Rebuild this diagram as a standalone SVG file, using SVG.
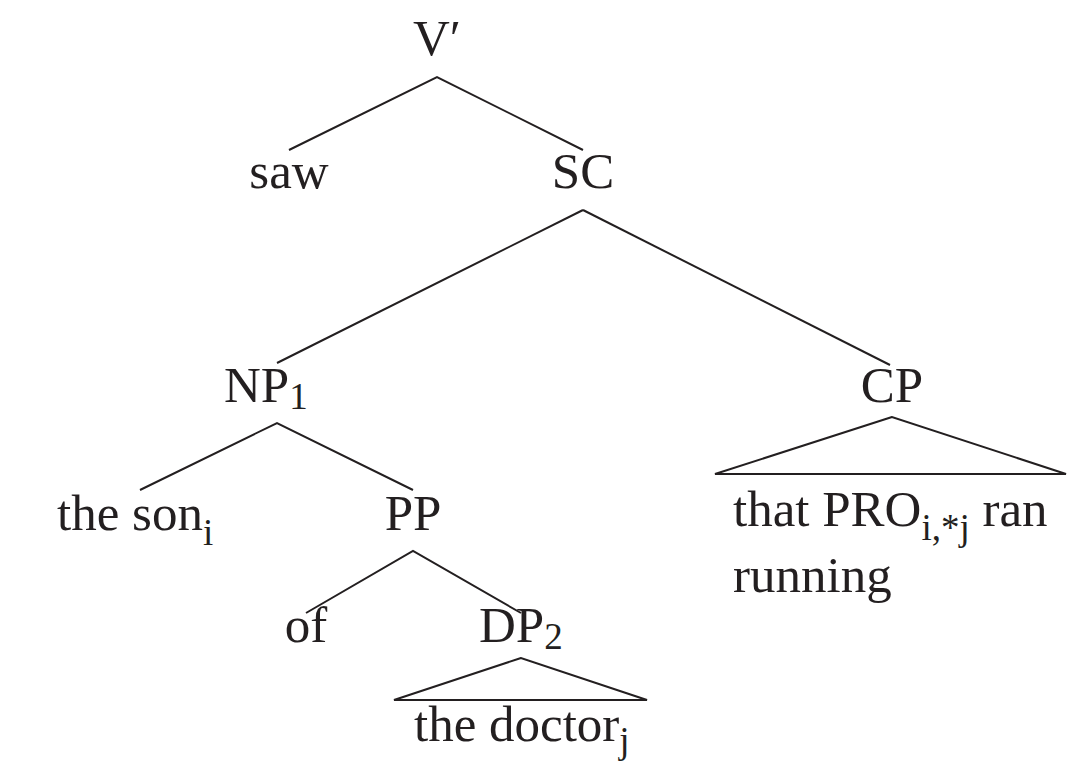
<svg xmlns="http://www.w3.org/2000/svg" width="1076" height="764" viewBox="0 0 1076 764">
<style>
text{font-family:"Liberation Serif","Times New Roman",serif;font-size:51px;fill:#231f20}
.m{text-anchor:middle}
.sub{font-size:37px}
.e line,.e polyline,.e polygon{stroke:#231f20;stroke-width:2;fill:none;stroke-linecap:butt}
</style>
<rect width="1076" height="764" fill="#fff"/>
<g class="e" id="connectors">
<polyline points="289,150 437,77 583,150"/>
<line x1="583" y1="210" x2="277" y2="363"/>
<line x1="583" y1="210" x2="890" y2="365"/>
<polyline points="140,490 277,423 413,490"/>
<polyline points="306,613 413,551 521,613"/>
<polygon points="521,658 394,700 647,700"/>
<polygon points="892,417 715,474 1066,474"/>
</g>
<g id="n-vbar"><text class="m" x="437" y="55">V′</text></g>
<g id="n-saw"><text class="m" x="289" y="188">saw</text></g>
<g id="n-sc"><text class="m" x="583" y="188">SC</text></g>
<g id="n-np1"><text x="224" y="402">NP<tspan class="sub" dy="7">1</tspan></text></g>
<g id="n-cp"><text class="m" x="892" y="402">CP</text></g>
<g id="n-theson"><text x="57" y="530">the son<tspan class="sub" dy="15">i</tspan></text></g>
<g id="n-pp"><text class="m" x="413" y="530">PP</text></g>
<g id="n-of"><text class="m" x="306" y="642">of</text></g>
<g id="n-dp2"><text x="479" y="642">DP<tspan class="sub" dy="7">2</tspan></text></g>
<g id="n-thedoctor"><text x="414" y="741">the doctor<tspan class="sub" dy="12">j</tspan></text></g>
<g id="n-cpcontent"><text x="733" y="526">that PRO<tspan class="sub" dy="14">i,*j</tspan><tspan dy="-14"> ran</tspan></text><text x="733" y="592">running</text></g>
</svg>
